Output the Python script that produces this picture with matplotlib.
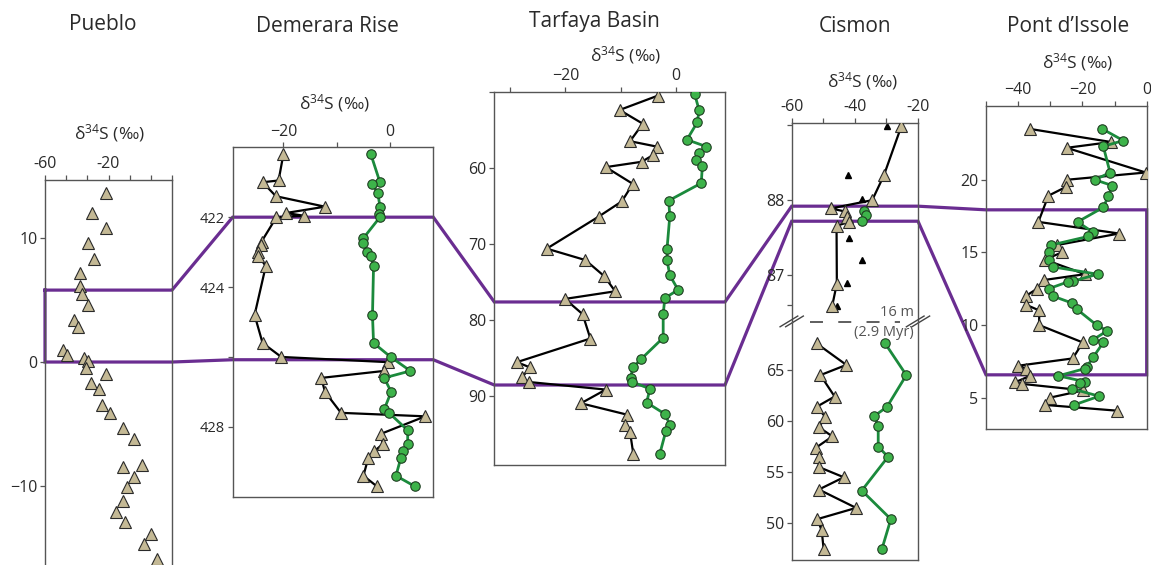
import matplotlib.pyplot as plt
from matplotlib.lines import Line2D

plt.rcParams['font.family'] = ['Open Sans', 'DejaVu Sans']
plt.rcParams['mathtext.fontset'] = 'custom'
plt.rcParams['mathtext.rm'] = 'Open Sans'
plt.rcParams['mathtext.default'] = 'regular'

# ---------------- data ----------------
titles = ['Pueblo', 'Demerara Rise', 'Tarfaya Basin', 'Cismon', 'Pont d\u2019Issole']
xlabel = '\u03b4$^{34}$S (\u2030)'

# Pueblo (triangles only)
pue_x = [-31.3, -38.0, -31.1, -39.9, -36.9, -43.4, -43.4, -42.5, -39.8, -46.1, -44.2,
         -51.6, -49.4, -41.5, -39.8, -40.6, -31.3, -38.4, -34.7, -33.0, -29.5, -23.2,
         -18.0, -23.2, -14.4, -18.0, -21.2, -23.2, -26.4, -22.3, -9.8, -13.4, -7.1]
pue_h = [13.6, 12.0, 10.8, 9.6, 8.3, 7.2, 6.1, 5.5, 4.6, 3.4, 2.8,
         1.0, 0.6, 0.3, 0.1, -0.5, -1.0, -1.7, -2.2, -3.5, -4.1, -5.3,
         -6.2, -8.5, -8.3, -9.3, -10.1, -11.2, -12.1, -12.9, -13.9, -14.7, -15.9]

# Demerara Rise
dem_tri_x = [-20.0, -20.9, -23.9, -21.4, -12.2, -19.5, -16.1, -21.3, -24.1, -24.2, -24.8,
             -24.7, -23.3, -25.4, -23.9, -20.4, -0.3, -1.1, -12.9, -12.2, -9.2, 6.6,
             -1.7, -1.4, -3.0, -4.1, -5.0, -2.5]
dem_tri_d = [420.2, 420.95, 421.0, 421.4, 421.7, 421.88, 421.96, 422.0, 422.7, 422.8, 423.0,
             423.1, 423.4, 424.8, 425.6, 426.0, 426.15, 426.4, 426.6, 427.0, 427.6, 427.7,
             428.2, 428.5, 428.7, 428.9, 429.4, 429.7]
dem_cir_x = [-3.6, -1.9, -3.4, -2.3, -1.9, -2.1, -1.9, -5.0, -5.0, -4.4, -3.6, -3.1, -3.3,
             -3.1, 0.1, 3.8, -1.1, 0.2, -1.1, -0.2, 3.3, 3.3, 2.5, 2.0, 1.1, 4.6]
dem_cir_d = [420.2, 421.0, 421.05, 421.3, 421.7, 421.9, 422.0, 422.6, 422.75, 423.0, 423.1,
             423.4, 424.8, 425.6, 426.0, 426.4, 426.6, 427.0, 427.5, 427.6, 428.1, 428.5,
             428.7, 428.9, 429.4, 429.7]

# Tarfaya Basin
tar_tri_x = [-3.2, -10.2, -6.0, -8.3, -3.5, -4.1, -6.2, -12.7, -7.8, -9.8, -14.0, -23.4,
             -16.4, -13.0, -11.0, -20.1, -16.9, -15.5, -28.8, -26.4, -27.9, -26.7, -12.7,
             -17.2, -8.8, -9.2, -8.3, -7.7]
tar_tri_d = [50.5, 52.4, 54.2, 56.5, 57.2, 58.3, 59.2, 59.9, 62.1, 64.4, 66.4, 70.6,
             72.1, 74.2, 76.2, 77.2, 79.2, 82.4, 85.5, 86.2, 87.5, 88.1, 89.1,
             90.9, 92.4, 93.8, 94.7, 97.6]
tar_cir_x = [3.4, 4.2, 3.9, 2.0, 5.5, 4.2, 3.6, 4.8, 4.6, -1.3, -1.1, -1.6, -1.6, -1.1,
             0.4, -2.0, -2.3, -2.3, -6.3, -7.8, -8.2, -7.9, -4.7, -5.3, -2.0, -1.1, -1.8, -2.9]
tar_cir_d = [50.3, 52.4, 54.0, 56.3, 57.2, 58.1, 59.0, 59.7, 62.0, 64.3, 66.3, 70.6, 72.1,
             74.1, 76.0, 77.1, 79.2, 82.3, 85.1, 86.2, 87.6, 88.1, 89.0, 90.8, 92.3, 93.7,
             94.5, 97.5]

# Cismon, upper segment (m)
cis_up_tri_x = [-25.3, -30.8, -34.5, -47.6, -43.2, -42.4, -41.8, -45.8, -45.7, -47.2]
cis_up_tri_h = [88.98, 88.33, 88.0, 87.89, 87.85, 87.77, 87.71, 87.66, 86.89, 86.59]
cis_up_small_x = [-29.9, -42.1, -37.6, -42.0, -37.6, -42.6, -45.7]
cis_up_small_h = [88.99, 88.34, 88.01, 87.50, 87.20, 86.90, 86.59]
cis_up_cir_x = [-37.2, -36.6, -37.7]
cis_up_cir_h = [87.86, 87.80, 87.72]
# Cismon, lower segment (m)
cis_lo_tri_x = [-52.1, -42.7, -50.9, -46.4, -52.1, -49.3, -51.4, -47.1, -52.3, -51.4, -51.4,
                -43.5, -51.4, -39.6, -51.9, -50.5, -49.9]
cis_lo_tri_h = [67.6, 65.5, 64.5, 62.4, 61.4, 60.4, 59.4, 58.5, 57.4, 56.5, 55.5,
                54.5, 53.3, 51.5, 50.4, 49.3, 47.5]
cis_lo_cir_x = [-30.4, -23.7, -29.8, -33.8, -32.6, -32.6, -29.5, -37.8, -28.6, -31.4]
cis_lo_cir_h = [67.6, 64.5, 61.4, 60.5, 59.5, 57.5, 56.5, 53.2, 50.4, 47.5]

# Pont d'Issole
pon_tri_x = [-36.3, -11.1, -24.9, -0.3, -24.9, -25.2, -30.6, -33.7, -8.6, -28.0, -26.4,
             -31.7, -19.2, -31.9, -34.1, -37.6, -37.6, -33.4, -33.5, -19.9, -23.0, -39.9,
             -37.6, -36.3, -41.0, -38.9, -19.7, -30.1, -31.7, -9.1]
pon_tri_h = [23.5, 22.6, 22.2, 20.5, 20.0, 19.5, 18.9, 17.1, 16.3, 15.5, 15.0,
             14.5, 13.5, 13.1, 12.5, 12.0, 11.4, 11.0, 10.0, 8.8, 7.7, 7.2,
             7.0, 6.5, 6.05, 5.95, 5.5, 5.0, 4.5, 4.1]
pon_cir_x = [-13.8, -7.3, -13.5, -11.4, -16.1, -10.7, -11.9, -13.5, -21.5, -16.8, -18.2,
             -29.8, -30.3, -30.3, -29.1, -15.3, -22.8, -24.4, -30.5, -29.3, -23.1, -21.8,
             -15.6, -12.3, -16.6, -13.5, -16.6, -18.7, -19.2, -27.5, -19.2, -20.8, -23.1,
             -14.8, -22.6]
pon_cir_h = [23.5, 22.7, 22.3, 20.5, 20.0, 19.6, 18.9, 18.1, 17.1, 16.4, 16.1,
             15.5, 15.0, 14.5, 14.0, 13.5, 13.02, 12.98, 12.5, 12.0, 11.5, 11.1,
             10.0, 9.6, 9.0, 8.8, 7.8, 7.1, 7.0, 6.5, 6.1, 6.0, 5.6,
             5.1, 4.5]

# correlation tie levels (Pueblo, Demerara, Tarfaya, Cismon, Pont d'Issole)
tie_upper = [5.8, 422.0, 77.6, 87.92, 17.93]
tie_lower = [0.0, 426.08, 88.5, 87.72, 6.57]

# ---------------- styling ----------------
TAN = '#c4b995'
GREEN = '#3db34a'
GLINE = '#1b8a3c'
PURPLE = '#6a2d91'
SPINE = '#555555'
TXT = '#2a2a2a'

W, H = 1151, 565
fig = plt.figure(figsize=(W / 100, H / 100), dpi=100)


def px_axes(l, t, r, b):
    return fig.add_axes([l / W, 1 - b / H, (r - l) / W, (b - t) / H])


def style(ax, xlim, ylim, xt, xtl, yt, ytl, ysize=11.5):
    ax.set_facecolor('none')
    ax.set_xlim(xlim)
    ax.set_ylim(ylim)
    ax.xaxis.tick_top()
    ax.set_xticks(xt)
    ax.set_xticklabels(xtl)
    ax.set_yticks(yt)
    ax.set_yticklabels(ytl)
    ax.tick_params(direction='out', length=3.5, width=0.9, color=SPINE,
                   labelcolor=TXT, labelsize=11.5, pad=2)
    ax.tick_params(axis='y', labelsize=ysize)
    for s in ax.spines.values():
        s.set_color(SPINE)
        s.set_linewidth(1.0)


def tri(ax, x, y, line=True):
    ax.plot(x, y, color='black', lw=1.6, ls='-' if line else 'none', marker='^', ms=8.5,
            mfc=TAN, mec='#2a2a2a', mew=0.8, zorder=3)


def cir(ax, x, y):
    ax.plot(x, y, color=GLINE, lw=2.0, marker='o', ms=6.8, mfc=GREEN, mec='#1f3f22',
            mew=0.8, zorder=4)


# Pueblo
ax_pue = px_axes(45, 180, 172, 565)
style(ax_pue, (-60, 0), (-16.37, 14.68), range(-60, 1, 10),
      ['-60', '', '', '-20', '', '', ''], [-10, 0, 10], ['\u221210', '0', '10'])
ax_pue.spines['bottom'].set_visible(False)
tri(ax_pue, pue_x, pue_h, line=False)

# Demerara Rise
ax_dem = px_axes(232.7, 147.3, 433.3, 496.7)
style(ax_dem, (-29.5, 8.1), (430.0, 420.0), [-20, -10, 0], ['\u221220', '', '0'],
      [422, 424, 426, 428], ['422', '424', '', '428'], ysize=10.5)
tri(ax_dem, dem_tri_x, dem_tri_d)
cir(ax_dem, dem_cir_x, dem_cir_d)

# Tarfaya Basin
ax_tar = px_axes(494.3, 91.7, 725, 465)
style(ax_tar, (-32.9, 8.9), (99, 50), [-30, -20, -10, 0], ['', '\u221220', '', '0'],
      [50, 60, 70, 80, 90], ['', '60', '70', '80', '90'])
tri(ax_tar, tar_tri_x, tar_tri_d)
cir(ax_tar, tar_cir_x, tar_cir_d)

# Cismon (broken axis)
ax_cu = px_axes(791.7, 122.7, 918, 322)
style(ax_cu, (-60, -20), (86.38, 89.03), range(-60, -19, 10),
      ['-60', '', '-40', '', '-20'], [86.6, 87, 88, 89], ['', '87', '88', ''])
ax_cu.spines['bottom'].set_visible(False)
ax_cu.plot(cis_up_small_x, cis_up_small_h, ls='none', marker='^', ms=3.8, color='black', zorder=2)
tri(ax_cu, cis_up_tri_x, cis_up_tri_h)
cir(ax_cu, cis_up_cir_x, cis_up_cir_h)

ax_cl = px_axes(791.7, 322, 918, 560)
style(ax_cl, (-60, -20), (46.4, 69.7), [], [], [50, 55, 60, 65], ['50', '55', '60', '65'])
ax_cl.spines['top'].set_visible(False)
tri(ax_cl, cis_lo_tri_x, cis_lo_tri_h)
cir(ax_cl, cis_lo_cir_x, cis_lo_cir_h)

# break marks, dashed gap line and gap annotation
for xc in (0.0, 1.0):
    for off in (-0.022, 0.022):
        ax_cl.plot([xc + off - 0.07, xc + off + 0.07], [0.98, 1.025], color='#444444',
                   lw=1.0, transform=ax_cl.transAxes, clip_on=False)
ax_cl.plot([0.145, 0.86], [1.0, 1.0], color='#333333', lw=1.1, dashes=(8.5, 10),
           transform=ax_cl.transAxes, clip_on=False)
ax_cl.text(0.835, 1.008, '16 m', transform=ax_cl.transAxes, ha='center', va='bottom',
           fontsize=10.5, color='#555555')
ax_cl.text(0.73, 0.988, '(2.9 Myr)', transform=ax_cl.transAxes, ha='center', va='top',
           fontsize=10.5, color='#555555')

# Pont d'Issole
ax_pon = px_axes(986, 105.7, 1146.7, 429.3)
style(ax_pon, (-50, 0), (2.82, 25.1), range(-50, 1, 10),
      ['', '\u221240', '', '\u221220', '', '0'], [5, 10, 15, 20], ['5', '10', '15', '20'])
tri(ax_pon, pon_tri_x, pon_tri_h)
cir(ax_pon, pon_cir_x, pon_cir_h)

# titles and axis labels
title_pos = [(103, 25), (327, 27), (594, 22), (855, 27), (1068, 27)]
label_pos = [(109, 133), (334, 103), (625, 55), (862, 81), (1077, 62)]
for t, (tx, ty), (lx, ly) in zip(titles, title_pos, label_pos):
    fig.text(tx / W, 1 - ty / H, t, ha='center', va='center', fontsize=15, color=TXT)
    fig.text(lx / W, 1 - ly / H, xlabel, ha='center', va='center', fontsize=12.5, color=TXT)

# correlation lines (built from tie levels through each panel's data transform)
panels = [ax_pue, ax_dem, ax_tar, ax_cu, ax_pon]
inv = fig.transFigure.inverted()


def tie_points(levels):
    pts = []
    for ax, lev in zip(panels, levels):
        x0, x1 = ax.get_xlim()
        pts.append(inv.transform(ax.transData.transform((x0, lev))))
        pts.append(inv.transform(ax.transData.transform((x1, lev))))
    return pts


up = tie_points(tie_upper)
lo = tie_points(tie_lower)
ring = up + lo[::-1] + [up[0]]
fig.add_artist(Line2D([p[0] for p in ring], [p[1] for p in ring], color=PURPLE, lw=2.3,
                      solid_joinstyle='miter', zorder=-1, transform=fig.transFigure))

fig.savefig('out.png', dpi=100)
